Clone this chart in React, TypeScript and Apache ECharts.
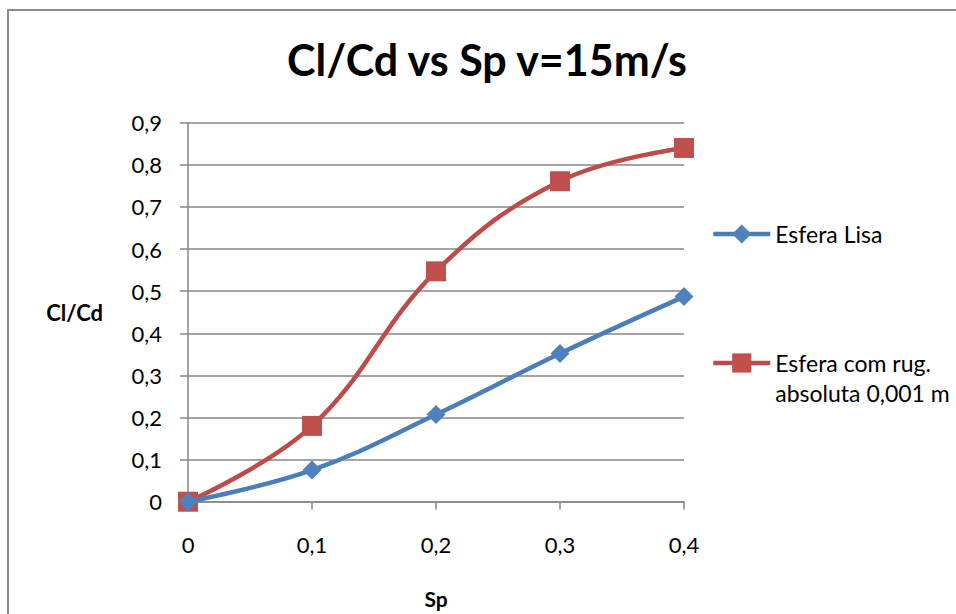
import React, { useEffect, useRef } from "react";
import * as echarts from "echarts";

// Sp values (x) and Cl/Cd ratios (y) for each sphere
const spValues = [0, 0.1, 0.2, 0.3, 0.4];
const esferaLisa = [0, 0.075, 0.207, 0.352, 0.487];
const esferaRugosa = [0, 0.18, 0.547, 0.761, 0.84];

const seriesNames = ["Esfera Lisa", "Esfera com rug.\nabsoluta 0,001 m"];
const titleText = "Cl/Cd vs Sp v=15m/s";

const FONT = "Lato";
const BLUE = "#4A7EBB";
const RED = "#BE4B48";
const GRID = "#868686";

const fmt = (v: number) => (v === 0 ? "0" : v.toFixed(1).replace(".", ","));

export default function App() {
  const ref = useRef<HTMLDivElement>(null);

  useEffect(() => {
    if (!ref.current) return;
    const chart = echarts.init(ref.current, undefined, { renderer: "svg" });

    const pairs = (ys: number[]) => spValues.map((x, i) => [x, ys[i]]);

    const legendText = { fontFamily: FONT, fontSize: 23, color: "#000", lineHeight: 30 };
    const legendBase = {
      orient: "vertical",
      left: 711,
      padding: 0,
      itemWidth: 57,
      itemHeight: 24,
      lineStyle: { width: 4.5 },
      textStyle: legendText,
    };

    chart.setOption({
      animation: false,
      backgroundColor: "#ffffff",
      textStyle: { fontFamily: FONT },
      title: {
        text: titleText,
        left: 487,
        top: 38,
        padding: 0,
        textAlign: "center",
        textStyle: { fontFamily: FONT, fontWeight: "bold", fontSize: 43, color: "#000" },
      },
      graphic: [
        {
          type: "rect",
          shape: { x: 8, y: 10, width: 1000, height: 700 },
          style: { fill: "none", stroke: "#8a8a8a", lineWidth: 2 },
          silent: true,
          z: -1,
        },
      ],
      grid: { left: 188, right: 272, top: 122.7, bottom: 112.3, outerBoundsMode: "none" },
      xAxis: {
        type: "value",
        min: 0,
        max: 0.4,
        interval: 0.1,
        name: "Sp",
        nameLocation: "middle",
        nameGap: 86,
        nameTextStyle: { fontFamily: FONT, fontWeight: "bold", fontSize: 21, color: "#000" },
        axisLine: { show: true, lineStyle: { color: GRID, width: 1.5 } },
        axisTick: { show: true, length: 8, lineStyle: { color: GRID, width: 1.5 } },
        axisLabel: { margin: 32, fontSize: 22, color: "#000", fontFamily: FONT, formatter: fmt },
        splitLine: { show: false },
      },
      yAxis: {
        type: "value",
        min: 0,
        max: 0.9,
        interval: 0.1,
        name: "Cl/Cd",
        nameLocation: "middle",
        nameRotate: 0,
        nameGap: 85,
        nameTextStyle: { fontFamily: FONT, fontWeight: "bold", fontSize: 22, color: "#000" },
        axisLine: { show: true, lineStyle: { color: GRID, width: 1.5 } },
        axisTick: { show: true, length: 8, lineStyle: { color: GRID, width: 1.5 } },
        axisLabel: { margin: 26, fontSize: 22, color: "#000", fontFamily: FONT, formatter: fmt },
        splitLine: { show: true, lineStyle: { color: GRID, width: 1.5 } },
      },
      legend: [
        {
          ...legendBase,
          top: 219,
          data: [seriesNames[0]],
        },
        {
          ...legendBase,
          top: 318,
          data: [seriesNames[1]],
          // leading blank line keeps the marker level with the first text line
          formatter: (n: string) => "\n" + n,
        },
      ],
      series: [
        {
          name: seriesNames[0],
          type: "line",
          data: pairs(esferaLisa),
          smooth: 0.4,
          symbol: "diamond",
          symbolSize: 19,
          lineStyle: { color: BLUE, width: 4.5 },
          itemStyle: { color: "#4F81BD", borderWidth: 0 },
          z: 3,
        },
        {
          name: seriesNames[1],
          type: "line",
          data: pairs(esferaRugosa),
          smooth: 0.4,
          symbol: "rect",
          symbolSize: 20,
          lineStyle: { color: RED, width: 4.5 },
          itemStyle: { color: "#C0504D", borderWidth: 0 },
          z: 2,
        },
      ],
    });

    return () => chart.dispose();
  }, []);

  return (
    <div
      ref={ref}
      style={{ position: "absolute", left: 0, top: 0, width: 956, height: 614 }}
    />
  );
}
